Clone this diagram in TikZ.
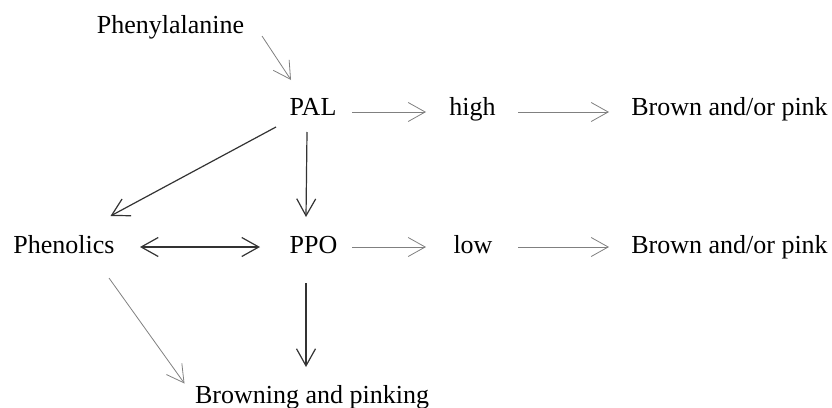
\documentclass[tikz,border=0pt]{standalone}
\usepackage{fontspec}
\setmainfont{Liberation Serif}
\usetikzlibrary{arrows.meta}
\definecolor{lightline}{HTML}{808080}
\definecolor{darkline}{HTML}{333333}
\begin{document}
\begin{tikzpicture}[x=1pt,y=-1pt,
  lbl/.style={anchor=base,inner sep=0pt,font=\fontsize{26}{30}\selectfont},
  barb/.style={-{Straight Barb[length=17pt,width=19pt]}},
  thin arrow/.style={barb,draw=lightline,line width=0.8pt},
  thick arrow/.style={barb,draw=darkline,line width=1.2pt},
  both arrow/.style={{Straight Barb[length=17pt,width=19pt]}-{Straight Barb[length=17pt,width=19pt]},draw=darkline,line width=1.2pt}]
\useasboundingbox (0,0) rectangle (832,407);

% labels
\node[lbl] (phe)   at (170.5,33) {Phenylalanine};
\node[lbl] (pal)   at (313,115)  {PAL};
\node[lbl] (high)  at (472.5,115) {high};
\node[lbl] (bp1)   at (729.5,115) {Brown and/or pink};
\node[lbl] (phen)  at (64,253)   {Phenolics};
\node[lbl] (ppo)   at (313.5,253) {PPO};
\node[lbl] (low)   at (473,253)  {low};
\node[lbl] (bp2)   at (729.5,253) {Brown and/or pink};
\node[lbl] (brown) at (312,403)  {Browning and pinking};

% light connectors
\draw[thin arrow] ([xshift=91.5pt,yshift=-3pt]phe.base) -- ([xshift=-22pt,yshift=35pt]pal.base);
\draw[thin arrow] ([xshift=39pt,yshift=3pt]pal.base) -- ([xshift=-46.5pt,yshift=3pt]high.base);
\draw[thin arrow] ([xshift=45.5pt,yshift=3pt]high.base) -- ([xshift=-120.5pt,yshift=3pt]bp1.base);
\draw[thin arrow] ([xshift=38.5pt,yshift=6pt]ppo.base) -- ([xshift=-47pt,yshift=6pt]low.base);
\draw[thin arrow] ([xshift=45pt,yshift=6pt]low.base) -- ([xshift=-120.5pt,yshift=6pt]bp2.base);
\draw[thin arrow] ([xshift=45pt,yshift=-25pt]phen.base) -- ([xshift=-127.5pt,yshift=19.5pt]brown.base);

% dark connectors
\draw[thick arrow] ([xshift=-37pt,yshift=-12pt]pal.base) -- ([xshift=46.5pt,yshift=37pt]phen.base);
\draw[thick arrow] ([xshift=-6pt,yshift=-17pt]pal.base) -- ([xshift=-7.5pt,yshift=36pt]ppo.base);
\draw[thick arrow] ([xshift=-7.5pt,yshift=-30pt]ppo.base) -- ([xshift=-6pt,yshift=36pt]brown.base);
\draw[both arrow] ([xshift=76pt,yshift=6pt]phen.base) -- ([xshift=-53.5pt,yshift=6pt]ppo.base);
\end{tikzpicture}
\end{document}
